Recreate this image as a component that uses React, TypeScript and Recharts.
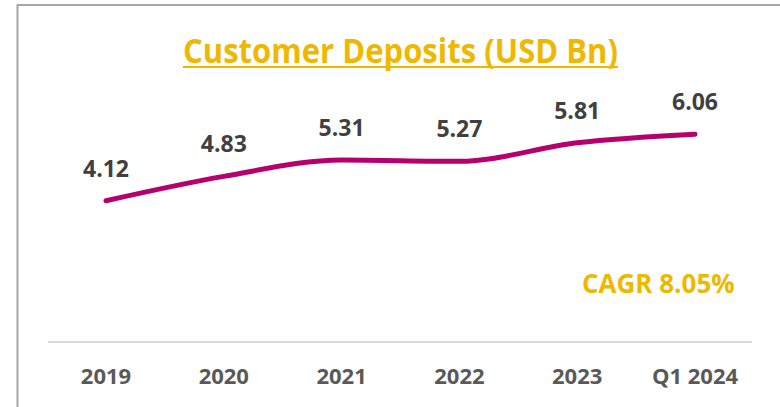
import { LineChart, Line, XAxis, YAxis, LabelList } from 'recharts';

const categories = ['2019', '2020', '2021', '2022', '2023', 'Q1 2024'];
const deposits = [4.12, 4.83, 5.31, 5.27, 5.81, 6.06];
const title = 'Customer Deposits (USD Bn)';
const cagrText = 'CAGR 8.05%';

const data = categories.map((name, i) => ({ name, value: deposits[i] }));

const FONT = '"Open Sans", sans-serif';
const GOLD = '#efb800';

export default function App() {
  return (
    <div style={{ position: 'absolute', left: 0, top: 0, width: 780, height: 407, background: '#fff' }}>
      <LineChart width={780} height={407} data={data} margin={{ top: 102, right: 28, bottom: 5, left: 48 }}>
        <XAxis
          dataKey="name"
          height={60}
          padding={{ left: 58, right: 57 }}
          axisLine={{ stroke: '#d9d9d9', strokeWidth: 2 }}
          tickLine={false}
          tickSize={0}
          tickMargin={26}
          interval={0}
          tick={{ fill: '#595959', fontSize: 22, fontWeight: 700, fontFamily: FONT }}
        />
        <YAxis hide domain={[0, 7]} />
        <Line
          type="monotone"
          dataKey="value"
          stroke="#b5006e"
          strokeWidth={5}
          strokeLinecap="round"
          dot={false}
          isAnimationActive={false}
        >
          <LabelList
            dataKey="value"
            position="top"
            offset={24}
            formatter={(v: number) => v.toFixed(2)}
            style={{ fill: '#404040', fontSize: 23, fontWeight: 700, fontFamily: FONT }}
          />
        </Line>
      </LineChart>
      <svg width={780} height={407} style={{ position: 'absolute', left: 0, top: 0, pointerEvents: 'none' }}>
        <polyline points="17.5,407 17.5,5 780,5" fill="none" stroke="#a6a6a6" strokeWidth={2} />
        <text
          x={183}
          y={63}
          textLength={435}
          lengthAdjust="spacingAndGlyphs"
          fill={GOLD}
          fontSize={34}
          fontWeight={700}
          fontFamily={FONT}
        >
          {title}
        </text>
        <line x1={183} x2={618} y1={67} y2={67} stroke={GOLD} strokeWidth={2} />
        <text x={582} y={293} fill={GOLD} fontSize={26} fontWeight={700} fontFamily={FONT}>
          {cagrText}
        </text>
      </svg>
    </div>
  );
}
